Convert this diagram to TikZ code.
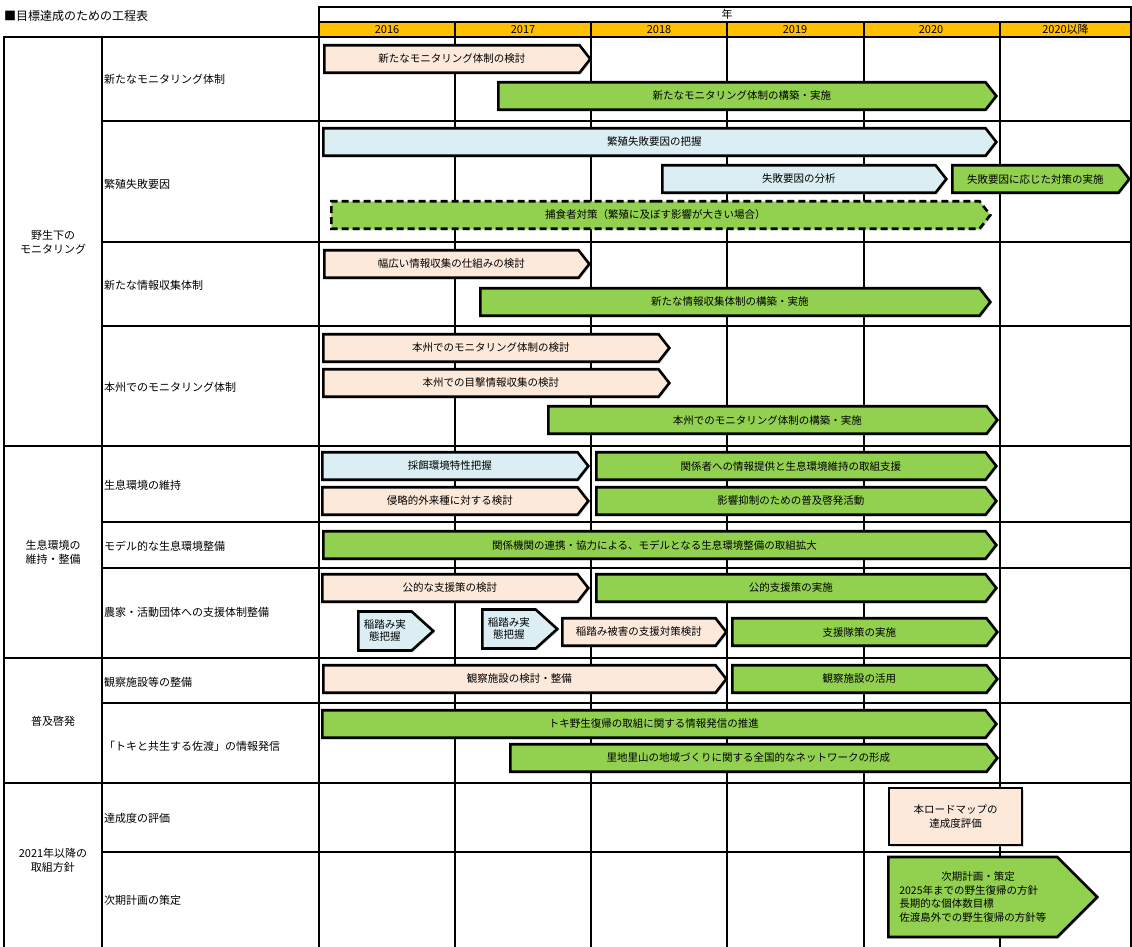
\documentclass[tikz,border=0pt]{standalone}
\usepackage{fontspec}
\setmainfont{Noto Sans CJK JP}
\usetikzlibrary{shapes.symbols,shadows,positioning}

\definecolor{peach}{HTML}{FDE9D9}
\definecolor{paleblue}{HTML}{DAEEF3}
\definecolor{leaf}{HTML}{92D050}
\definecolor{gold}{HTML}{FFC000}

\begin{document}
\begin{tikzpicture}[x=1pt,y=-1pt,
grid/.style={line width=1.3pt},
task/.style={signal, signal to=east, signal pointer angle=104, draw, line width=2.6pt,
  minimum height=27.5pt, inner sep=1pt, anchor=west,
  font=\fontsize{10.5}{12}\selectfont,
  drop shadow={shadow xshift=1.5pt, shadow yshift=-1.5pt, opacity=.3}},
plan/.style={task, fill=peach},
survey/.style={task, fill=paleblue},
act/.style={task, fill=leaf},
rowlabel/.style={anchor=west, inner sep=0pt, font=\fontsize{11}{13}\selectfont},
grouplabel/.style={align=center, inner sep=0pt, font=\fontsize{11}{14}\selectfont},
year/.style={inner sep=0pt, font=\fontsize{11}{12}\selectfont}]
\useasboundingbox (0,0) rectangle (1132,947);

% header
\node[anchor=west, inner sep=0pt, font=\fontsize{12}{14}\selectfont] (title) at (4,16) {■目標達成のための工程表};
\fill[gold] (319,22) rectangle (1131,37);
\draw[grid] (319,948) |- (1131,7) -- (1131,948);
\draw[grid] (319,22) -- (1131,22);
\node[year] (nen) at (727,14) {年};
\foreach \yr [count=\i] in {2016,2017,2018,2019,2020}
  \node[year] (y\yr) at ({319+136*\i-68},29.5) {\yr};
\node[year] (ylater) at (1065.5,29.5) {2020以降};
\foreach \xx in {455,591,727,864,1000}
  \draw[grid] (\xx,22) -- (\xx,948);

% table
\draw[grid] (4,948) |- (1131,37);
\draw[grid] (102,37) -- (102,948);
\foreach \yy in {446,658,783}
  \draw[grid] (4,\yy) -- (1131,\yy);
\foreach \yy in {121,242,326,522,568,703,852}
  \draw[grid] (102,\yy) -- (1131,\yy);

\begin{scope}[every node/.append style={}]
\node[grouplabel] (wild) at (53,242) {野生下の\\モニタリング};
\node[grouplabel] (habitat) at (53,552) {生息環境の\\維持・整備};
\node[grouplabel] (outreach) at (53,721) {普及啓発};
\node[grouplabel] (policy) at (53,860) {2021年以降の\\取組方針};

\node[rowlabel] (r_mon) at (104,79) {新たなモニタリング体制};
\node[rowlabel] (r_fail) at (104,184) {繁殖失敗要因};
\node[rowlabel] (r_info) at (104,285) {新たな情報収集体制};
\node[rowlabel] (r_hon) at (104,387) {本州でのモニタリング体制};
\node[rowlabel] (r_keep) at (104,485) {生息環境の維持};
\node[rowlabel] (r_model) at (104,546) {モデル的な生息環境整備};
\node[rowlabel] (r_aid) at (104,612) {農家・活動団体への支援体制整備};
\node[rowlabel] (r_fac) at (104,682) {観察施設等の整備};
\node[rowlabel] (r_sado) at (104,746) {「トキと共生する佐渡」の情報発信};
\node[rowlabel] (r_eval) at (104,818) {達成度の評価};
\node[rowlabel] (r_next) at (104,900) {次期計画の策定};
\end{scope}

% tasks
\node[plan, minimum width=266pt] (monplan) at (323,59) {新たなモニタリング体制の検討};
\node[act, minimum width=498pt] (monrun) at (497,96) {新たなモニタリング体制の構築・実施};
\node[survey, minimum width=673pt] (failgrasp) at (322,142) {繁殖失敗要因の把握};
\node[survey, minimum width=284pt] (failanal) at (661,179) {失敗要因の分析};
\node[act, minimum width=177pt] (failact) at (951,179) {失敗要因に応じた対策の実施};
\node[act, dashed, dash pattern=on 7pt off 4pt, minimum width=659pt] (predator) at (330,215) {捕食者対策（繁殖に及ぼす影響が大きい場合）};
\node[plan, minimum width=265pt] (infoplan) at (323,264) {幅広い情報収集の仕組みの検討};
\node[act, minimum width=510pt] (inforun) at (479,302) {新たな情報収集体制の構築・実施};
\node[plan, minimum width=346pt] (honplan) at (322,348) {本州でのモニタリング体制の検討};
\node[plan, minimum width=346pt] (sightplan) at (322,383) {本州での目撃情報収集の検討};
\node[act, minimum width=449pt] (honrun) at (547,420) {本州でのモニタリング体制の構築・実施};
\node[survey, minimum width=266pt] (feedgrasp) at (321,466) {採餌環境特性把握};
\node[act, minimum width=400pt] (feedrun) at (595,466) {関係者への情報提供と生息環境維持の取組支援};
\node[plan, minimum width=266pt] (alienplan) at (321,501) {侵略的外来種に対する検討};
\node[act, minimum width=400pt] (alienrun) at (595,501) {影響抑制のための普及啓発活動};
\node[act, minimum width=673pt] (modelrun) at (322,545) {関係機関の連携・協力による、モデルとなる生息環境整備の取組拡大};
\node[plan, minimum width=266pt] (aidplan) at (321,588) {公的な支援策の検討};
\node[act, minimum width=400pt] (aidrun) at (595,588) {公的支援策の実施};
\node[survey, align=center, minimum height=39pt, signal pointer angle=84, minimum width=75pt] (trampleA) at (357,631) {稲踏み実\\態把握};
\node[survey, align=center, minimum height=39pt, signal pointer angle=84, minimum width=75pt] (trampleB) at (481,629) {稲踏み実\\態把握};
\node[plan, minimum width=164pt] (trampleplan) at (561,632) {稲踏み被害の支援対策検討};
\node[act, minimum width=265pt] (tramplerun) at (731,632) {支援隊策の実施};
\node[plan, minimum width=403pt] (facplan) at (322,679) {観察施設の検討・整備};
\node[act, minimum width=265pt] (facrun) at (731,679) {観察施設の活用};
\node[act, minimum width=674pt] (inforelease) at (321,724) {トキ野生復帰の取組に関する情報発信の推進};
\node[act, minimum width=487pt] (network) at (509,758) {里地里山の地域づくりに関する全国的なネットワークの形成};

% 2021-
\node[draw, line width=2.6pt, fill=peach, minimum width=133pt, minimum height=57pt, align=center,
  font=\fontsize{10.5}{14}\selectfont, drop shadow={shadow xshift=1.5pt, shadow yshift=-1.5pt, opacity=.3}]
  (evalbox) at (955.5,816.5) {本ロードマップの\\達成度評価};
\node[act, minimum width=209pt, minimum height=80pt, signal pointer angle=90, align=left,
  font=\fontsize{10.5}{13.5}\selectfont] (nextplan) at (887,897)
  {\hspace*{4em}次期計画・策定\\2025年までの野生復帰の方針\\長期的な個体数目標\\佐渡島外での野生復帰の方針等};
\end{tikzpicture}
\end{document}
